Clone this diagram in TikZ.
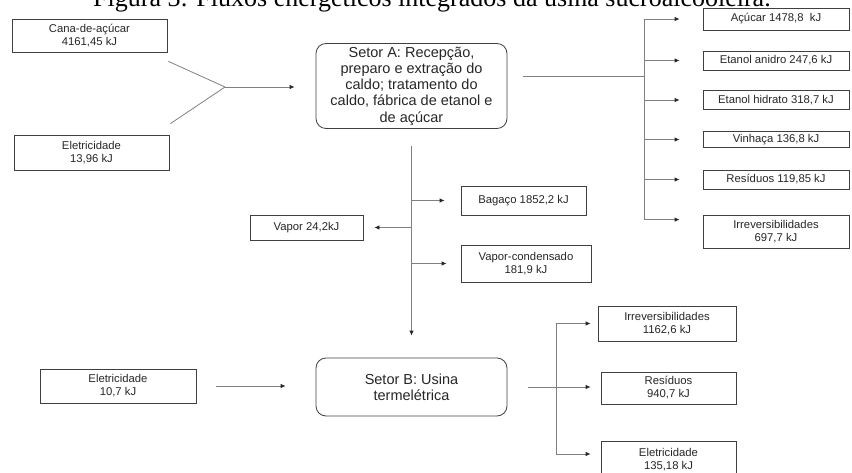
\documentclass[tikz,border=0pt]{standalone}
\usepackage{fontspec}
\setmainfont{Liberation Serif}
\setsansfont{Liberation Sans}
\usetikzlibrary{arrows.meta}
\begin{document}
\begin{tikzpicture}[x=1pt,y=-1pt,
  box/.style={draw=black!75, line width=0.8pt, inner sep=0pt, align=center,
    font=\sffamily\fontsize{11.3}{13}\selectfont, text=black!85},
  sector/.style={box, rounded corners=10pt, font=\sffamily\fontsize{14.5}{16.3}\selectfont},
  conn/.style={draw=black!50, line width=0.8pt},
  arr/.style={conn, -{Latex[length=5pt,width=4.5pt,color=black!85]}}]
\useasboundingbox (0,0) rectangle (852,473);
\clip (0,0) rectangle (852,473);

% title (cut off at the top)
\node[anchor=base west, inner sep=0pt, font=\fontsize{26}{26}\selectfont] (title) at (93,7)
  {Figura 3: Fluxos energéticos integrados da usina sucroalcooleira.};

% inputs to sector A
\node[box, minimum width=155pt, minimum height=33pt] (cana) at (89.5,35.5) {Cana-de-açúcar\\4161,45 kJ};
\node[box, minimum width=155pt, minimum height=35pt] (eleA) at (91.5,152.5) {Eletricidade\\13,96 kJ};
\node[sector, minimum width=191pt, minimum height=85pt] (setorA) at (411.5,86)
  {Setor A: Recepção,\\preparo e extração do\\caldo; tratamento do\\caldo, fábrica de etanol e\\de açúcar};

% outputs of sector A
\node[box, minimum width=146pt, minimum height=22pt] (acucar) at (776,19) {Açúcar 1478,8\ \ kJ};
\node[box, minimum width=146pt, minimum height=19pt] (anidro) at (776,60.5) {Etanol anidro 247,6 kJ};
\node[box, minimum width=146pt, minimum height=19pt] (hidrato) at (776,100) {Etanol hidrato 318,7 kJ};
\node[box, minimum width=146pt, minimum height=16pt] (vinhaca) at (776,139.5) {Vinhaça 136,8 kJ};
\node[box, minimum width=146pt, minimum height=19pt] (resA) at (776,179.5) {Resíduos 119,85 kJ};
\node[box, minimum width=146pt, minimum height=33pt] (irrevA) at (776,231.5) {Irreversibilidades\\697,7 kJ};

% side streams
\node[box, minimum width=125pt, minimum height=29pt] (bagaco) at (523.5,200.5) {Bagaço 1852,2 kJ};
\node[box, minimum width=113pt, minimum height=25pt] (vapor) at (306.5,227.5) {Vapor 24,2kJ};
\node[box, minimum width=130pt, minimum height=37pt] (vcond) at (526,263.5) {Vapor-condensado\\181,9 kJ};

% sector B
\node[sector, minimum width=191pt, minimum height=58pt] (setorB) at (411.5,387) {Setor B: Usina\\termelétrica};
\node[box, minimum width=156pt, minimum height=34pt] (eleB) at (118,386) {Eletricidade\\10,7 kJ};
\node[box, minimum width=138pt, minimum height=35pt] (irrevB) at (667,323.5) {Irreversibilidades\\1162,6 kJ};
\node[box, minimum width=135pt, minimum height=32pt] (resB) at (668.5,388) {Resíduos\\940,7 kJ};
\node[box, minimum width=135pt, minimum height=38pt] (eleOut) at (668.5,460) {Eletricidade\\135,18 kJ};

% --- connectors: inputs to A
\coordinate (jA) at (225,87);
\draw[conn] ([shift={(1,9)}]cana.south east) -- (jA);
\draw[conn] ([shift={(1,-11)}]eleA.north east) -- (jA);
\draw[arr, shorten >=21pt] (jA) -- (jA -| setorA.west);

% --- A to outputs bus
\coordinate (busA) at (644,0);
\coordinate (aOut) at ([shift={(16,-10)}]setorA.east);
\draw[conn] (aOut) -- (aOut -| busA);
\coordinate (irrAb) at ([yshift=-5pt]irrevA.north west);
\draw[conn] (busA |- acucar) -- (busA |- irrAb);
\foreach \n in {acucar,anidro,hidrato,vinhaca,resA}{
  \draw[arr, shorten >=23pt] (busA |- \n) -- (\n.west);
}
\draw[arr, shorten >=23pt] (busA |- irrAb) -- (irrAb);

% --- A down to B
\coordinate (vTop) at ([yshift=-17.5pt]setorA.south);
\draw[arr, shorten >=22pt] (vTop) -- (setorB.north);
\draw[arr, shorten >=16pt] (vTop |- bagaco) -- (bagaco.west);
\draw[arr, shorten >=11pt] (vTop |- vapor) -- (vapor.east);
\draw[arr, shorten >=14pt] (vTop |- vcond) -- (vcond.west);

% --- into B
\draw[arr, shorten <=20pt, shorten >=30pt] (eleB.east) -- (eleB.east -| setorB.west);

% --- B to outputs
\coordinate (busB) at (556,0);
\coordinate (eleOb) at ([yshift=6pt]eleOut.west);
\draw[conn] (busB |- irrevB) -- (busB |- eleOb);
\draw[arr, shorten <=21pt, shorten >=10pt] (setorB.east) -- (setorB.east -| resB.west);
\draw[arr, shorten >=7pt] (busB |- irrevB) -- (irrevB.west);
\draw[arr, shorten >=10pt] (busB |- eleOb) -- (eleOb);
\end{tikzpicture}
\end{document}
